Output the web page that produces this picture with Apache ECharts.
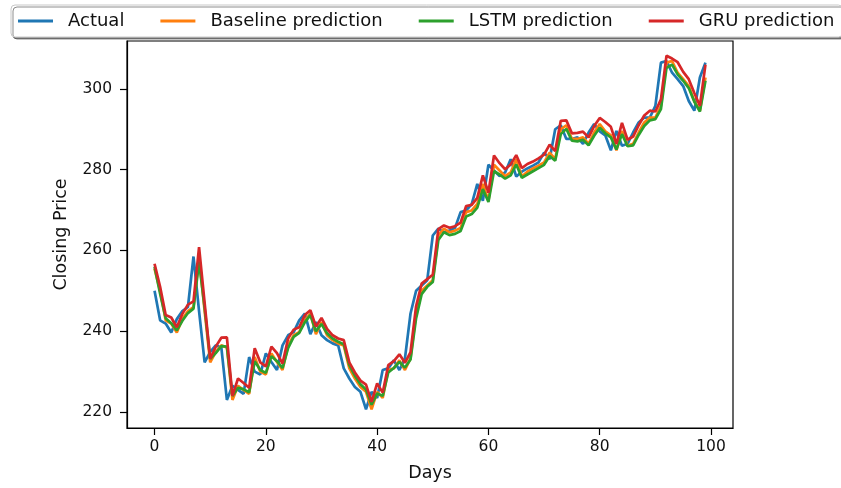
<!DOCTYPE html>
<html>
<head>
<meta charset="utf-8">
<script src="https://cdn.jsdelivr.net/npm/echarts@6/dist/echarts.min.js"></script>
<style>
html,body{margin:0;padding:0;background:#fff;}
#chart{width:841px;height:488px;}
</style>
</head>
<body>
<div id="chart"></div>
<script>
// Days 0..99
var days = [];
for (var i = 0; i < 100; i++) days.push(i);

var xTicks = [0, 20, 40, 60, 80, 100];
var yTicks = [220, 240, 260, 280, 300];
var seriesNames = ['Actual', 'Baseline prediction', 'LSTM prediction', 'GRU prediction'];

var actual = [
  250.0, 242.7, 241.9, 239.7, 243.0, 245.0, 246.0, 258.5, 245.0, 232.3,
  234.9, 236.5, 236.0, 223.0, 226.5, 225.5, 224.5, 233.6, 230.0, 229.3,
  234.5, 232.4, 230.4, 236.5, 239.0, 239.8, 242.7, 244.4, 239.3, 242.3,
  239.0, 237.8, 237.0, 236.5, 230.8, 228.3, 226.2, 225.0, 220.7, 225.0,
  223.5, 230.4, 230.8, 232.8, 230.4, 233.3, 244.4, 250.0, 251.3, 252.6,
  263.7, 265.4, 264.5, 264.9, 265.6, 269.5, 269.9, 271.5, 276.5, 272.3,
  281.2, 279.8, 278.4, 279.3, 282.6, 278.3, 279.5, 280.3, 281.0, 281.8,
  284.2, 282.6, 290.0, 291.0, 287.6, 287.6, 288.0, 286.4, 289.2, 291.3,
  289.5, 288.5, 284.8, 289.6, 285.9, 286.4, 289.2, 291.7, 292.9, 292.9,
  295.8, 306.5, 306.9, 304.0, 302.4, 300.7, 297.0, 294.6, 302.8, 306.5
];

var baseline = [
  255.5, 250.0, 242.7, 241.9, 239.7, 243.0, 245.0, 246.0, 258.5, 245.0,
  232.3, 234.9, 236.5, 236.0, 223.0, 226.5, 225.5, 224.5, 233.6, 230.0,
  229.3, 234.5, 232.4, 230.4, 236.5, 239.0, 239.8, 242.7, 244.4, 239.3,
  242.3, 239.0, 237.8, 237.0, 236.5, 230.8, 228.3, 226.2, 225.0, 220.7,
  225.0, 223.5, 230.4, 230.8, 232.8, 230.4, 233.3, 244.4, 250.0, 251.3,
  252.6, 263.7, 265.4, 264.5, 264.9, 265.6, 269.5, 269.9, 271.5, 276.5,
  272.3, 281.2, 279.8, 278.4, 279.3, 282.6, 278.3, 279.5, 280.3, 281.0,
  281.8, 284.2, 282.6, 290.0, 291.0, 287.6, 287.6, 288.0, 286.4, 289.2,
  291.3, 289.5, 288.5, 284.8, 289.6, 285.9, 286.4, 289.2, 291.7, 292.9,
  292.9, 295.8, 306.5, 306.9, 304.0, 302.4, 300.7, 297.0, 294.6, 302.8
];

var lstm = [
  256.0, 249.3, 243.2, 242.0, 240.2, 242.6, 244.5, 245.6, 257.2, 245.8,
  233.2, 234.6, 236.3, 236.2, 224.0, 226.0, 225.6, 224.9, 232.6, 230.4,
  229.7, 233.8, 232.6, 230.9, 235.8, 238.6, 239.6, 242.2, 244.0, 240.0,
  241.8, 239.5, 238.2, 237.4, 236.8, 231.6, 229.0, 226.9, 225.6, 221.8,
  224.6, 224.0, 229.8, 230.9, 232.4, 231.0, 233.0, 243.2, 249.2, 251.0,
  252.2, 262.6, 264.5, 263.8, 264.1, 264.8, 268.4, 269.0, 270.6, 275.2,
  272.0, 279.6, 278.8, 277.8, 278.6, 281.3, 278.0, 278.8, 279.6, 280.4,
  281.2, 283.4, 282.2, 288.8, 290.1, 287.2, 287.0, 287.4, 286.0, 288.4,
  290.4, 289.0, 288.0, 285.0, 288.8, 285.8, 286.0, 288.6, 290.8, 292.2,
  292.5, 295.0, 305.2, 306.0, 303.6, 302.0, 300.2, 296.8, 294.4, 302.0
];

var gru = [
  256.7, 251.0, 244.0, 243.4, 241.0, 244.3, 246.6, 247.4, 260.8, 247.0,
  233.2, 236.2, 238.4, 238.5, 224.0, 228.3, 227.2, 226.0, 235.8, 232.3,
  231.3, 236.2, 234.6, 232.0, 238.2, 240.4, 241.0, 244.0, 245.2, 241.2,
  243.3, 240.6, 239.0, 238.2, 237.8, 232.3, 229.8, 227.8, 226.8, 222.5,
  227.1, 224.8, 231.6, 232.6, 234.3, 232.2, 234.8, 246.2, 251.8, 252.9,
  254.0, 265.3, 266.2, 265.6, 266.0, 266.9, 271.0, 271.3, 273.0, 278.6,
  274.3, 283.5, 281.6, 280.1, 281.3, 283.6, 280.4, 281.4, 282.0, 282.8,
  283.7, 286.2, 284.6, 292.1, 292.2, 289.0, 289.1, 289.4, 288.0, 290.8,
  292.8, 291.8, 290.6, 286.4, 291.6, 287.4, 288.2, 291.0, 293.4, 294.6,
  294.4, 297.4, 308.2, 307.5, 306.6, 304.2, 302.4, 299.0, 295.8, 306.0
];

var colors = ['#1f77b4', '#ff7f0e', '#2ca02c', '#d62728'];
var values = [actual, baseline, lstm, gru];

function pairs(arr) {
  return days.map(function (d, i) { return [d, arr[i]]; });
}

var chart = echarts.init(document.getElementById('chart'), null, {renderer: 'canvas'});
var font = 'DejaVu Sans';

chart.setOption({
  animation: false,
  backgroundColor: '#ffffff',
  color: colors,
  legend: {
    left: 11,
    top: 5,
    width: 900,
    orient: 'horizontal',
    padding: [7, 8, 7, 7],
    itemGap: 36,
    itemWidth: 35,
    itemHeight: 3,
    icon: 'rect',
    backgroundColor: '#ffffff',
    borderColor: '#c8c8c8',
    borderWidth: 1,
    borderRadius: 4,
    shadowColor: 'rgba(0,0,0,0.45)',
    shadowOffsetX: 2,
    shadowOffsetY: 2,
    shadowBlur: 0,
    textStyle: {fontFamily: font, fontSize: 18, color: '#111', padding: [0, 0, 0, 10]},
    data: seriesNames
  },
  grid: {
    left: 127, right: 108, top: 41, bottom: 60,
    show: true, borderColor: '#000', borderWidth: 1.2,
    containLabel: false
  },
  xAxis: {
    type: 'value',
    min: -4.95, max: 103.95,
    name: 'Days',
    nameLocation: 'middle',
    nameGap: 36,
    nameTextStyle: {fontFamily: font, fontSize: 17.5, color: '#111'},
    axisLine: {show: true, onZero: false, lineStyle: {color: '#000', width: 1.2}},
    axisTick: {show: true, length: 7, customValues: xTicks, lineStyle: {color: '#000', width: 1.2}},
    axisLabel: {customValues: xTicks, fontFamily: font, fontSize: 15.5, color: '#111', margin: 11},
    splitLine: {show: false}
  },
  yAxis: {
    type: 'value',
    min: 216.05, max: 311.85,
    name: 'Closing Price',
    nameLocation: 'middle',
    nameGap: 57,
    nameRotate: 90,
    nameTextStyle: {fontFamily: font, fontSize: 17.5, color: '#111'},
    axisLine: {show: true, onZero: false, lineStyle: {color: '#000', width: 1.2}},
    axisTick: {show: true, length: 7, customValues: yTicks, lineStyle: {color: '#000', width: 1.2}},
    axisLabel: {customValues: yTicks, fontFamily: font, fontSize: 15.5, color: '#111', margin: 15},
    splitLine: {show: false}
  },
  series: seriesNames.map(function (name, k) {
    return {
      name: name,
      type: 'line',
      data: pairs(values[k]),
      showSymbol: false,
      symbol: 'none',
      lineStyle: {width: 2.7, color: colors[k]},
      itemStyle: {color: colors[k]},
      z: 2 + k
    };
  })
});
</script>
</body>
</html>
